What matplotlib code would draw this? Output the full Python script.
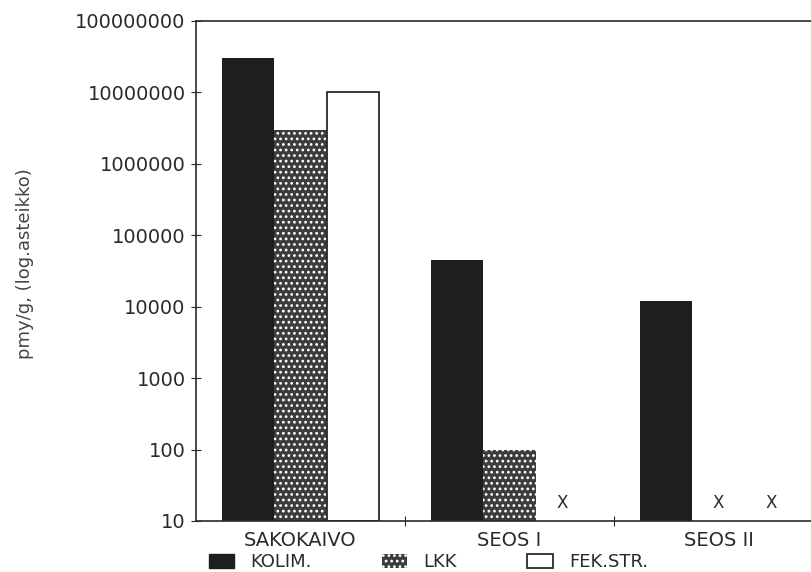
import matplotlib
matplotlib.use("Agg")
import matplotlib.pyplot as plt
from matplotlib.patches import Patch
import numpy as np

# pitoisuudet, pmy/g
groups = ["SAKOKAIVO", "SEOS I", "SEOS II"]
series = ["KOLIM.", "LKK", "FEK.STR."]
kolim = [3.0e7, 4.5e4, 1.2e4]
lkk = [3.0e6, 100, None]
fek = [1.0e7, None, None]
ytick_vals = [10, 100, 1000, 10000, 100000, 1000000, 10000000, 100000000]

ink = "#2a2a2a"
plt.rcParams["font.family"] = "DejaVu Sans"
plt.rcParams["hatch.linewidth"] = 1.2

fig = plt.figure(figsize=(8.12, 5.72), dpi=100)
ax = fig.add_axes([0.2414, 0.0892, 0.7721, 0.8741])

x = np.arange(len(groups))
w = 0.25
dark = dict(color="#1e1e1e")
dotted = dict(facecolor="#3c3c3c", edgecolor="white", hatch="...", linewidth=0)
hollow = dict(facecolor="white", edgecolor=ink, linewidth=1.3)
styles = [dark, dotted, hollow]
x_mark_val = 18

for k, vals in enumerate([kolim, lkk, fek]):
    xs = x + (k - 1) * w
    for xi, v in zip(xs, vals):
        if v is None:
            # ei mitattu
            ax.text(xi, x_mark_val, "X", ha="center", va="center",
                    fontsize=12, color=ink)
            continue
        ax.bar(xi, v - 10, bottom=10, width=w, **styles[k], zorder=2)

ax.set_yscale("log")
ax.set_ylim(10, 1e8)
ax.set_xlim(-0.5, 2.5)
ax.set_yticks(ytick_vals)
ax.set_yticklabels([str(v) for v in ytick_vals])
ax.yaxis.set_minor_locator(matplotlib.ticker.NullLocator())

# ryhmien rajat ja nimet
ax.set_xticks([0.5, 1.5])
ax.set_xticklabels(["", ""])
ax.set_xticks(x, minor=True)
ax.set_xticklabels(groups, minor=True)
ax.tick_params(axis="x", which="minor", length=0, pad=7, labelsize=14, labelcolor=ink)
ax.tick_params(axis="x", which="major", direction="inout", length=7, color=ink)
ax.tick_params(axis="y", direction="inout", length=7, color=ink, labelsize=14,
               labelcolor=ink, pad=4)

for s in ["left", "bottom", "top"]:
    ax.spines[s].set_color(ink)
    ax.spines[s].set_linewidth(1.2)
ax.spines["right"].set_visible(False)

ax.set_ylabel("pmy/g, (log.asteikko)", fontsize=13, color="#444444")
ax.yaxis.set_label_coords(-0.258, 0.515)

handles = [Patch(**dark), Patch(**dotted), Patch(**hollow)]
fig.legend(handles, series, loc="center left", bbox_to_anchor=(0.257, 0.017),
           ncol=3, frameon=False, fontsize=13, labelcolor=ink,
           handlelength=1.4, handleheight=0.75, handletextpad=0.9,
           columnspacing=3.9, borderaxespad=0, borderpad=0)

plt.savefig("out.png", dpi=100)
